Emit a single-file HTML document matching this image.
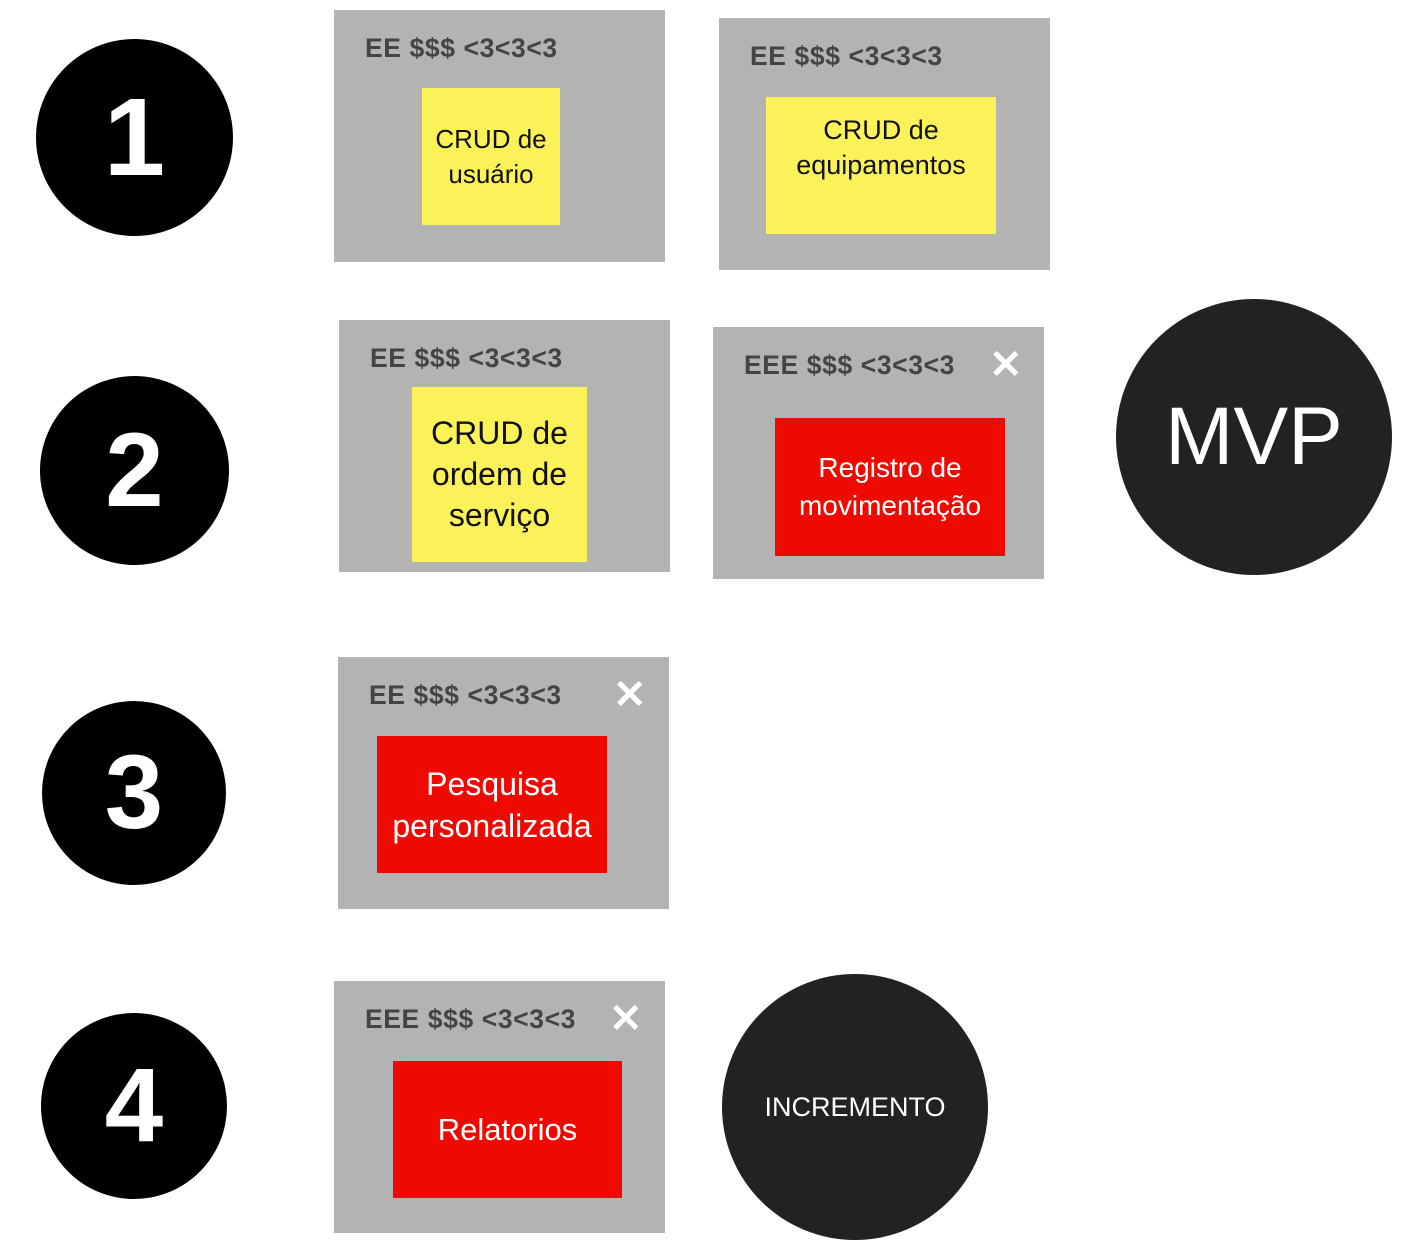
<!DOCTYPE html>
<html><head><meta charset="utf-8"><style>
body{margin:0;width:1403px;height:1252px;background:#fff;position:relative;overflow:hidden;font-family:"Liberation Sans",sans-serif}
.c{position:absolute;border-radius:50%;background:#000;color:#fff;display:flex;align-items:center;justify-content:center;font-weight:bold}
.g{position:absolute;background:#b3b3b3;width:331px;height:252px}
.h{position:absolute;font-size:26.5px;font-weight:bold;color:#444;white-space:nowrap;letter-spacing:0.6px}
.s{position:absolute;display:flex;align-items:center;justify-content:center;text-align:center}
.y{background:#fbf25a;color:#111}
.r{background:#ee0a00;color:#fff}
.x{position:absolute;color:#fff;font-size:40px;font-weight:bold;line-height:1}
</style></head><body>
<div class="c" style="left:36px;top:39px;width:197px;height:197px;font-size:110px">1</div>
<div class="c" style="left:40px;top:376px;width:189px;height:189px;font-size:105px">2</div>
<div class="c" style="left:42px;top:701px;width:184px;height:184px;font-size:105px">3</div>
<div class="c" style="left:41px;top:1013px;width:186px;height:186px;font-size:105px">4</div>
<div class="c" style="left:1116px;top:299px;width:276px;height:276px;background:#222;font-weight:normal;font-size:82px">MVP</div>
<div class="c" style="left:722px;top:974px;width:266px;height:266px;background:#222;font-weight:normal;font-size:27px">INCREMENTO</div>

<div class="g" style="left:334px;top:10px"></div>
<div class="h" style="left:365px;top:33px">EE $$$ &lt;3&lt;3&lt;3</div>
<div class="s y" style="left:422px;top:88px;width:138px;height:137px;font-size:26px;line-height:35px">CRUD de<br>usuário</div>

<div class="g" style="left:719px;top:18px"></div>
<div class="h" style="left:750px;top:41px">EE $$$ &lt;3&lt;3&lt;3</div>
<div class="s y" style="left:766px;top:97px;width:230px;height:137px;font-size:27px;line-height:35px;align-items:flex-start;padding-top:16px;box-sizing:border-box">CRUD de<br>equipamentos</div>

<div class="g" style="left:339px;top:320px"></div>
<div class="h" style="left:370px;top:343px">EE $$$ &lt;3&lt;3&lt;3</div>
<div class="s y" style="left:412px;top:387px;width:175px;height:175px;font-size:32px;line-height:41px">CRUD de<br>ordem de<br>serviço</div>

<div class="g" style="left:713px;top:327px"></div>
<div class="h" style="left:744px;top:350px">EEE $$$ &lt;3&lt;3&lt;3</div>
<div class="x" style="left:989px;top:345px">✕</div>
<div class="s r" style="left:775px;top:418px;width:230px;height:138px;font-size:28px;line-height:38px">Registro de<br>movimentação</div>

<div class="g" style="left:338px;top:657px"></div>
<div class="h" style="left:369px;top:680px">EE $$$ &lt;3&lt;3&lt;3</div>
<div class="x" style="left:613px;top:675px">✕</div>
<div class="s r" style="left:377px;top:736px;width:230px;height:137px;font-size:32px;line-height:42px">Pesquisa<br>personalizada</div>

<div class="g" style="left:334px;top:981px"></div>
<div class="h" style="left:365px;top:1004px">EEE $$$ &lt;3&lt;3&lt;3</div>
<div class="x" style="left:609px;top:999px">✕</div>
<div class="s r" style="left:393px;top:1061px;width:229px;height:137px;font-size:31px">Relatorios</div>
</body></html>
